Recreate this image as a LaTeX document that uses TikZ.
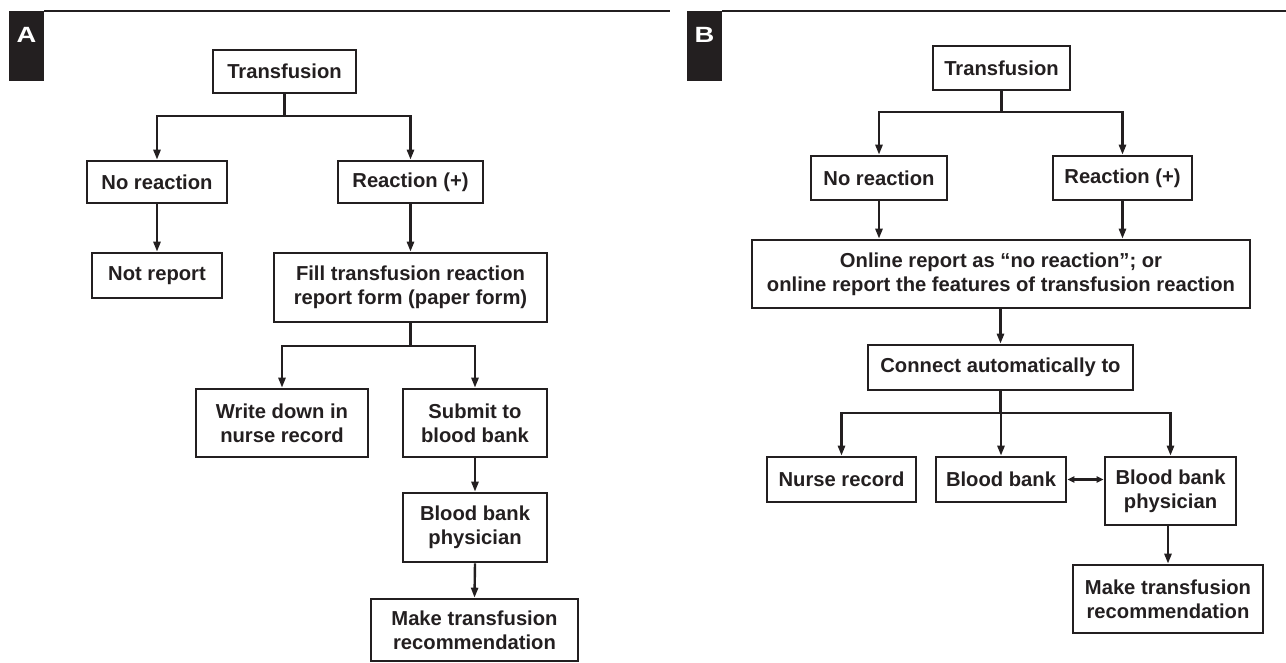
\documentclass[tikz,border=0pt]{standalone}
\usepackage{fontspec}
\setmainfont{Liberation Sans}
\usetikzlibrary{arrows.meta}
\definecolor{ink}{HTML}{231F20}
\begin{document}
\begin{tikzpicture}[x=1pt,y=-1pt,
  box/.style={draw=ink, line width=2.6pt, text=ink, font=\fontsize{20.2}{24.3}\selectfont\bfseries, align=center, inner sep=0pt},
  conn/.style={draw=ink, line width=2.4pt},
  arr/.style={conn, -{Triangle[length=10pt,width=7pt]}},
  darr/.style={conn, {Triangle[length=7pt,width=6pt]}-{Triangle[length=7pt,width=6pt]}},
  labbox/.style={fill=ink, minimum width=35pt, minimum height=70pt, inner sep=0pt, anchor=north west},
  labtext/.style={text=white, font=\fontsize{21}{21}\selectfont\bfseries, inner sep=0pt},
  rule/.style={draw=ink, line width=1.3pt}
]
\useasboundingbox (0,0) rectangle (1286,662);

% panel labels and rules
\node[labbox] (labA) at (9,11) {};
\node[labtext] (letA) at (26.5,34.5) {\scalebox{1.3}[1.05]{A}};
\coordinate (ruleAend) at (670,11);
\draw[rule] (labA.north east) -- (ruleAend);

\node[labbox] (labB) at (687,11) {};
\node[labtext] (letB) at (704.5,34.5) {\scalebox{1.3}[1.05]{B}};
\coordinate (ruleBend) at (1286,11);
\draw[rule] (labB.north east) -- (ruleBend);

% ---------------- Panel A ----------------
\node[box, minimum width=143pt, minimum height=43pt] (tA) at (284.5,71.5) {Transfusion};
\node[box, minimum width=140pt, minimum height=42pt] (noA) at (157,182) {No reaction};
\node[box, minimum width=145pt, minimum height=42pt] (reA) at (410.5,182) {Reaction (+)};
\node[box, minimum width=130pt, minimum height=45pt] (notA) at (157,275.5) {Not report};
\node[box, minimum width=273pt, minimum height=69pt] (fillA) at (410.5,287.5) {Fill transfusion reaction\\report form (paper form)};
\node[box, minimum width=172pt, minimum height=68pt] (writeA) at (282,423) {Write down in\\nurse record};
\node[box, minimum width=144pt, minimum height=68pt] (subA) at (475,423) {Submit to\\blood bank};
\node[box, minimum width=144pt, minimum height=69pt] (bbpA) at (475,527.5) {Blood bank\\physician};
\node[box, minimum width=207pt, minimum height=62pt] (makeA) at (474.5,630) {Make transfusion\\recommendation};

\coordinate (forkA1) at (284.5,116);
\coordinate (forkA2) at (410.5,346);
\draw[conn] (tA.south) -- (forkA1);
\draw[arr] (forkA1) -| (noA.north);
\draw[arr] (forkA1) -| (reA.north);
\draw[arr] (noA.south) -- (notA.north);
\draw[arr] (reA.south) -- (fillA.north);
\draw[conn] (fillA.south) -- (forkA2);
\draw[arr] (forkA2) -| (writeA.north);
\draw[arr] (forkA2) -| (subA.north);
\draw[arr] (subA.south) -- (bbpA.north);
\draw[arr] (bbpA.south) -- (makeA.north);

% ---------------- Panel B ----------------
\node[box, minimum width=137pt, minimum height=44pt] (tB) at (1001.5,68) {Transfusion};
\node[box, minimum width=136pt, minimum height=44pt] (noB) at (879,178) {No reaction};
\node[box, minimum width=139pt, minimum height=44pt] (reB) at (1122.5,178) {Reaction (+)};
\node[box, minimum width=498pt, minimum height=68pt] (onl) at (1001,274) {Online report as “no reaction”; or\\online report the features of transfusion reaction};
\node[box, minimum width=265pt, minimum height=45pt] (con) at (1000.5,367.5) {Connect automatically to};
\node[box, minimum width=149pt, minimum height=45pt] (nurse) at (841.5,479.5) {Nurse record};
\node[box, minimum width=130pt, minimum height=45pt] (bb) at (1001,479.5) {Blood bank};
\node[box, minimum width=131pt, minimum height=68pt] (bbp) at (1170.5,491) {Blood bank\\physician};
\node[box, minimum width=190pt, minimum height=68pt] (makeB) at (1168,599) {Make transfusion\\recommendation};

\coordinate (forkB1) at (1001.5,112);
\coordinate (forkB2) at (1000.5,413);
\draw[conn] (tB.south) -- (forkB1);
\draw[arr] (forkB1) -| (noB.north);
\draw[arr] (forkB1) -| (reB.north);
\draw[arr] (noB.south) -- (noB.south |- onl.north);
\draw[arr] (reB.south) -- (reB.south |- onl.north);
\draw[arr] (onl.south -| con.north) -- (con.north);
\draw[conn] (con.south) -- (forkB2);
\draw[arr] (forkB2) -| (nurse.north);
\draw[arr] (forkB2) -| (bb.north);
\draw[arr] (forkB2) -| (bbp.north);
\draw[darr] (bb.east) -- (bb.east -| bbp.west);
\draw[arr] (bbp.south -| makeB.north) -- (makeB.north);
\end{tikzpicture}
\end{document}
